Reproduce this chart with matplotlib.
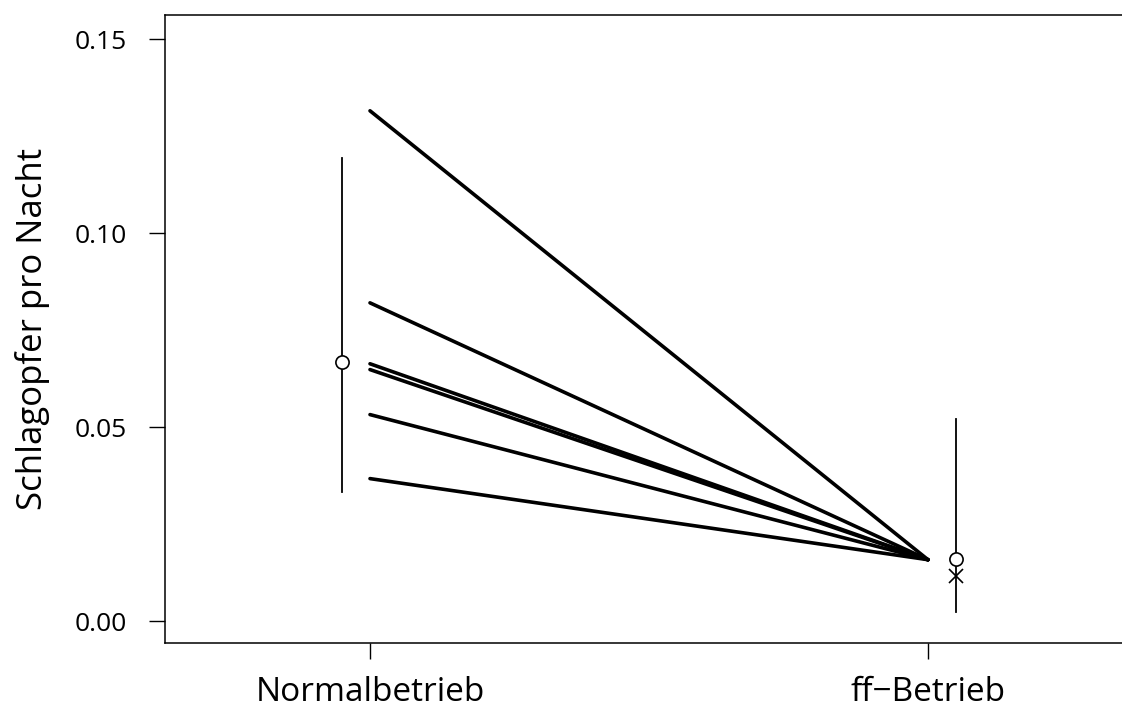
import matplotlib
matplotlib.use("Agg")
import matplotlib.pyplot as plt

plt.rcParams['font.family'] = ['Open Sans', 'DejaVu Sans']

categories = ["Normalbetrieb", "ff\u2212Betrieb"]
normal_values = [0.1315, 0.0820, 0.0663, 0.0648, 0.0532, 0.0367]
ff_values = [0.0158, 0.0158, 0.0158, 0.0158, 0.0158, 0.0158]

# summary: mean (circle), lower, upper
normal_mean = 0.0667
normal_lo = 0.0332
normal_hi = 0.1193
ff_mean = 0.0160
ff_lo = 0.0022
ff_hi = 0.0521
ff_cross = 0.0115

yticks = [0.00, 0.05, 0.10, 0.15]
ytick_labels = ["0.00", "0.05", "0.10", "0.15"]

W, H = 1122, 707
fig = plt.figure(figsize=(W / 100, H / 100), dpi=100)
ax = fig.add_axes([165 / W, (H - 643) / H, (1133 - 165) / W, (643 - 15) / H])

xpos = [1, 2]
for a, b in zip(normal_values, ff_values):
    ax.plot(xpos, [a, b], color='black', lw=2.6, solid_capstyle='round', zorder=3)

off = 0.05
ax.plot([1 - off, 1 - off], [normal_lo, normal_hi], color='black', lw=1.3, zorder=2)
ax.plot([1 - off], [normal_mean], marker='o', ms=9.5, mfc='white', mec='black', mew=1.2, zorder=4)
ax.plot([2 + off, 2 + off], [ff_lo, ff_hi], color='black', lw=1.3, zorder=2)
ax.plot([2 + off], [ff_mean], marker='o', ms=9.5, mfc='white', mec='black', mew=1.2, zorder=4)
ax.plot([2 + off], [ff_cross], marker='x', ms=10, color='black', mew=1.2, zorder=4)

ax.set_xlim(1 - 205 / 558, 2 + 205 / 558)
ax.set_ylim(-0.00567, 0.15619)
ax.set_xticks(xpos)
ax.set_xticklabels(categories, fontsize=24)
ax.set_yticks(yticks)
ax.set_yticklabels(ytick_labels, fontsize=19)
ax.tick_params(axis='both', length=11.5, width=1.0, color='black')
ax.tick_params(axis='y', pad=16)
ax.tick_params(axis='x', pad=12)
for s in ax.spines.values():
    s.set_linewidth(1.1)
ax.set_ylabel("Schlagopfer pro Nacht", fontsize=25)
ax.yaxis.set_label_coords((50 - 165) / 968, 0.5)

fig.savefig("out.png", dpi=100)
